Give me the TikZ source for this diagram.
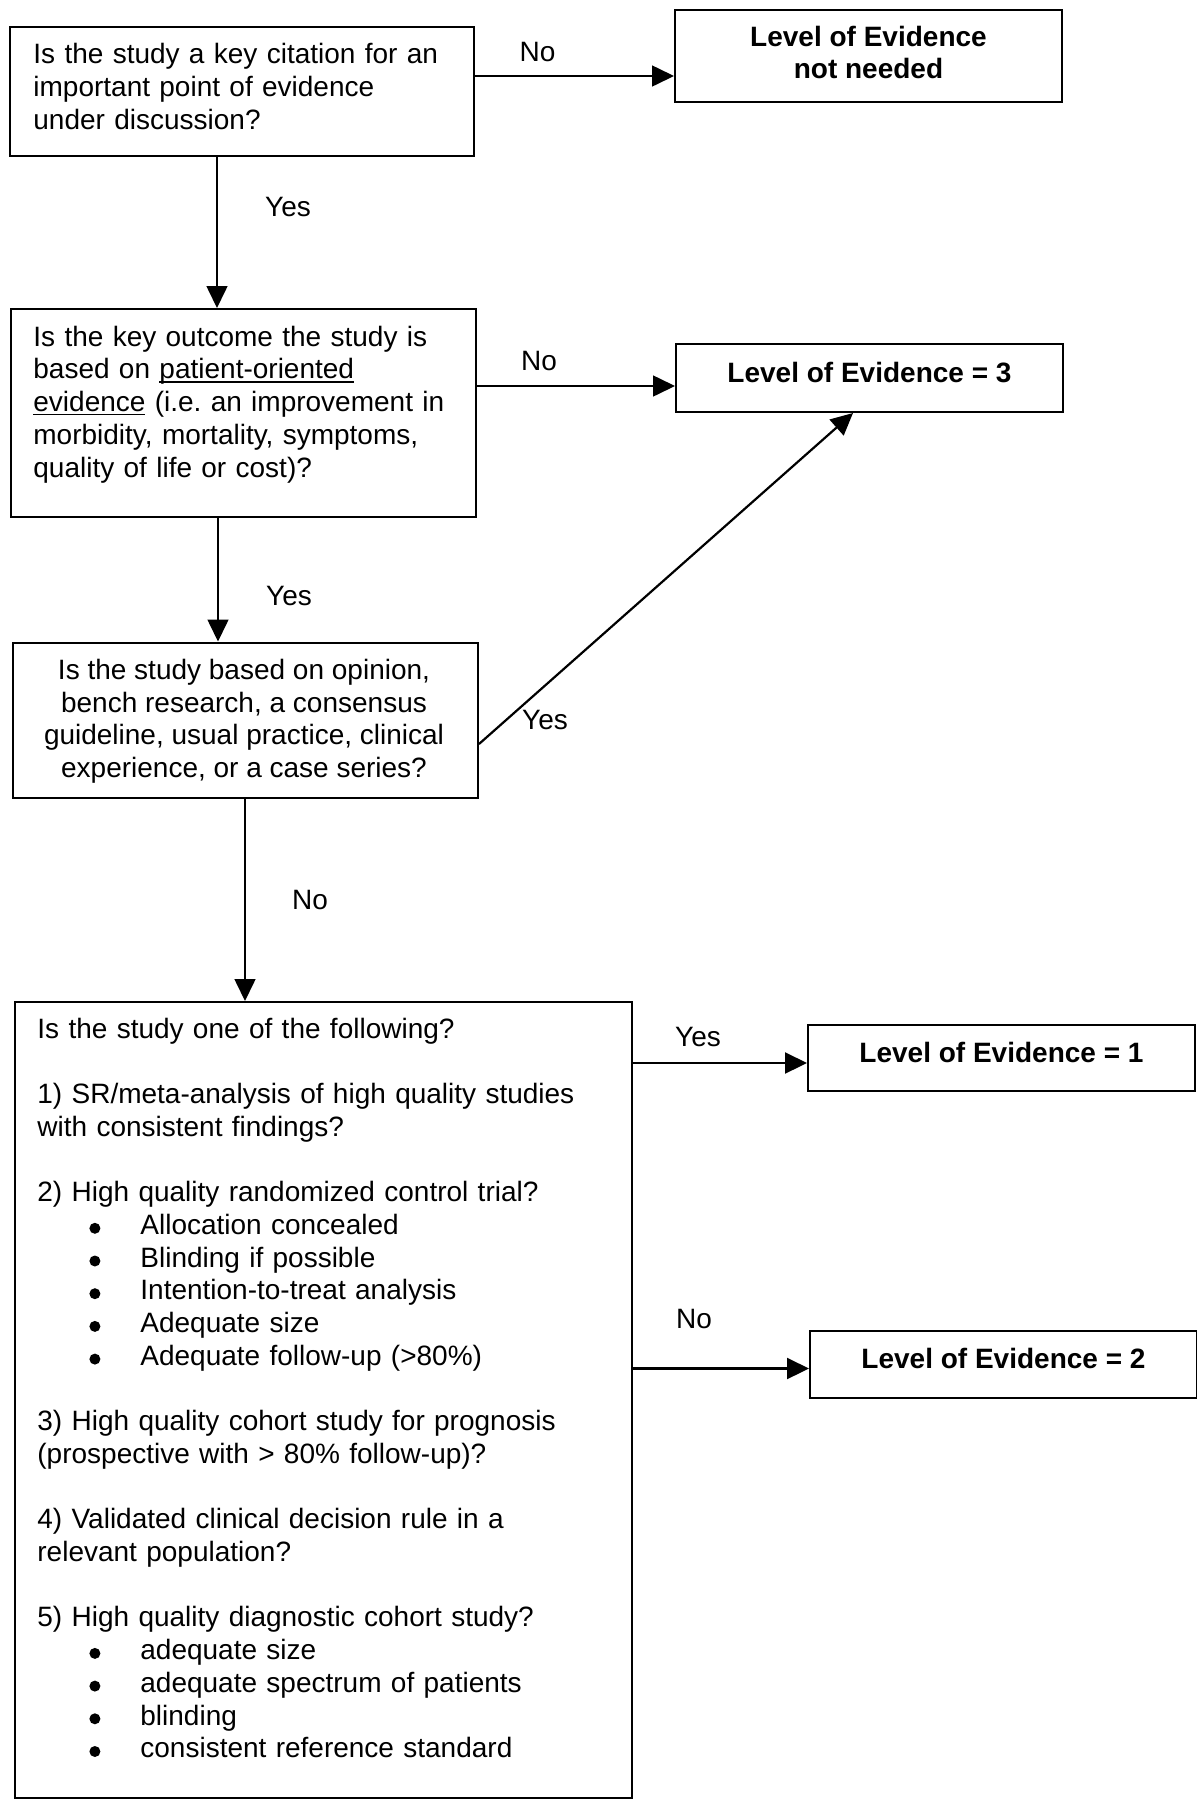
\documentclass[tikz,border=0pt]{standalone}
\usepackage{fontspec}
\setmainfont{Liberation Sans}
\usetikzlibrary{arrows.meta}
\newcommand\myul[1]{\leavevmode\setbox2\hbox{#1}\rlap{\rule[-1.8pt]{\wd2}{0.6pt}}\box2\relax}
\newcommand\bul{\hspace*{26pt}\makebox[25.5pt][l]{\tikz[baseline=0pt]\fill[black] (2.75pt,3.1pt) circle[radius=2.75pt];}}
\begin{document}
\begin{tikzpicture}[x=0.5pt,y=-0.5pt,
  every node/.style={font=\fontsize{14pt}{16.35pt}\selectfont\frenchspacing},
  box/.style={draw, line width=1pt, inner sep=0pt, anchor=north west},
  lvlbase/.style={box, font=\fontsize{14pt}{16pt}\selectfont\bfseries, align=center, minimum width=193.5pt},
  lvl/.style={lvlbase, text height=10.5pt, text depth=6.5pt},
  txt/.style={inner sep=0pt, anchor=north west, align=left},
  ctxt/.style={inner sep=0pt, anchor=north, align=center},
  lab/.style={inner sep=0pt},
  arr/.style={-{Triangle[length=11pt,width=10.5pt]}, line width=0.8pt},
  arrb/.style={arr, line width=1.1pt}
]
\fill[white] (0,0) rectangle (1197,1800);
\useasboundingbox (0,0) rectangle (1197,1800);

% boxes
\node[box, minimum width=232.25pt, minimum height=64.5pt] (b1) at (8.5,26) {};
\node[lvlbase, minimum height=46.25pt, text depth=3pt] (nn) at (674,8.5) {Level of Evidence\\not needed};
\node[box, minimum width=232.5pt, minimum height=104pt] (b2) at (10,308) {};
\node[lvl, minimum height=34pt] (l3) at (675,343) {Level of Evidence = 3};
\node[box, minimum width=232.75pt, minimum height=77.75pt] (b3) at (11.5,641.5) {};
\node[box, minimum width=308.5pt, minimum height=398pt] (b4) at (14,1001) {};
\node[lvl, minimum height=33pt] (l1) at (807,1024) {Level of Evidence = 1};
\node[lvl, minimum height=33.5pt] (l2) at (809,1330) {Level of Evidence = 2};

% texts
\node[txt, text width=215pt] (t1) at (33,43.1) {Is the study a key citation for an\\important point of evidence\\under discussion?};
\node[txt, text width=215pt] (t2) at (33,325.6) {Is the key outcome the study is\\based on \myul{patient-oriented}\\\myul{evidence} (i.e. an improvement in\\morbidity, mortality, symptoms,\\quality of life or cost)?};
\node[ctxt] (t3) at (244,658.6) {Is the study based on opinion,\\bench research, a consensus\\guideline, usual practice, clinical\\experience, or a case series?};
\node[txt, text width=290pt] (t4) at (37,1017.6) {Is the study one of the following?\\[16.35pt]
1) SR/meta-analysis of high quality studies\\
with consistent findings?\\[16.35pt]
2) High quality randomized control trial?\\
\bul Allocation concealed\\
\bul Blinding if possible\\
\bul Intention-to-treat analysis\\
\bul Adequate size\\
\bul Adequate follow-up (>80\%)\\[16.35pt]
3) High quality cohort study for prognosis\\
(prospective with > 80\% follow-up)?\\[16.35pt]
4) Validated clinical decision rule in a\\
relevant population?\\[16.35pt]
5) High quality diagnostic cohort study?\\
\bul adequate size\\
\bul adequate spectrum of patients\\
\bul blinding\\
\bul consistent reference standard};

% helper coordinates
\coordinate (y1) at (0,76);
\coordinate (y2) at (0,386);
\coordinate (y3) at (0,744);
\coordinate (y4) at (0,1063);
\coordinate (y5) at (0,1368.5);
\coordinate (x1) at (217,0);
\coordinate (x2) at (218,0);
\coordinate (x3) at (245,0);
\coordinate (x4) at (853,0);

% connectors
\draw[arr] (b1.east |- y1) -- (nn.west |- y1);
\draw[arr] (b1.south -| x1) -- (b2.north -| x1);
\draw[arr] (b2.east |- y2) -- (l3.west |- y2);
\draw[arr] (b2.south -| x2) -- (b3.north -| x2);
\draw[arrb] (b3.east |- y3) -- (l3.south -| x4);
\draw[arr] (b3.south -| x3) -- (b4.north -| x3);
\draw[arrb] (b4.east |- y4) -- (l1.west |- y4);
\draw[arrb] (b4.east |- y5) -- (l2.west |- y5);

% labels
\node[lab] (no1) at (537.5,52) {No};
\node[lab] (yes1) at (288,207) {Yes};
\node[lab] (no2) at (539,361) {No};
\node[lab] (yes2) at (289,596) {Yes};
\node[lab] (yes3) at (545,720) {Yes};
\node[lab] (no3) at (310,900) {No};
\node[lab] (yes4) at (698,1037) {Yes};
\node[lab] (no4) at (694,1319) {No};
\end{tikzpicture}
\end{document}
